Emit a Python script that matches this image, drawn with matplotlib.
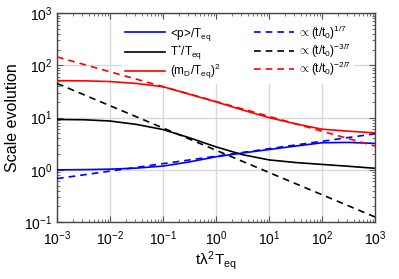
import numpy as np
import matplotlib
matplotlib.use("Agg")
import matplotlib.pyplot as plt
from matplotlib.ticker import LogLocator, NullFormatter

plt.rcParams['font.family'] = ['Liberation Sans', 'DejaVu Sans']
plt.rcParams['mathtext.fontset'] = 'custom'
plt.rcParams['mathtext.rm'] = 'Liberation Sans'
plt.rcParams['mathtext.it'] = 'Liberation Sans'
plt.rcParams['mathtext.sf'] = 'Liberation Sans'

# time points (t lambda^2 T_eq)
t = [1e-3, 10**-2.5, 1e-2, 10**-1.5, 1e-1, 10**-0.5, 1e0, 10**0.5, 1e1, 10**1.5, 1e2, 10**2.5, 1e3]
p_over_T = [1.0, 1.01, 1.03, 1.08, 1.18, 1.42, 1.78, 2.1, 2.45, 2.85, 3.3, 3.35, 3.2]
Tstar_over_T = [9.2, 9.1, 8.6, 7.4, 5.9, 4.1, 2.75, 1.95, 1.55, 1.38, 1.27, 1.17, 1.07]
mD_over_T2 = [51, 50.5, 49, 45, 39, 28, 20, 14, 10, 7.6, 6.0, 5.5, 5.1]

# power-law guide lines (endpoints)
t_fit = [1e-3, 1e3]
fit_p = [0.68, 4.9]
fit_T = [45, 0.125]
fit_m = [145, 2.85]

xticks = [1e-3, 1e-2, 1e-1, 1e0, 1e1, 1e2, 1e3]
xticklabels = [r'10$^{-3}$', r'10$^{-2}$', r'10$^{-1}$', r'10$^{0}$', r'10$^{1}$', r'10$^{2}$', r'10$^{3}$']
yticks = [1e-1, 1e0, 1e1, 1e2, 1e3]
yticklabels = [r'10$^{-1}$', r'10$^{0}$', r'10$^{1}$', r'10$^{2}$', r'10$^{3}$']

labels = [r'<p>/T$_{\mathrm{eq}}$', r'T$^{*}$/T$_{\mathrm{eq}}$', r'(m$_{\mathrm{D}}$/T$_{\mathrm{eq}}$)$^{2}$',
          r'$\propto$(t/t$_{0}$)$^{1/7}$', r'$\propto$(t/t$_{0}$)$^{-3/7}$', r'$\propto$(t/t$_{0}$)$^{-2/7}$']

fig = plt.figure(figsize=(3.99, 2.79), dpi=100)
ax = fig.add_axes([0.143, 0.204, 0.797, 0.749])

lw = 1.2
dash = (0, (4, 3))
h1, = ax.plot(t, p_over_T, color='blue', lw=lw, zorder=3)
h2, = ax.plot(t, Tstar_over_T, color='black', lw=lw, zorder=3)
h3, = ax.plot(t, mD_over_T2, color='red', lw=lw, zorder=3)
h4, = ax.plot(t_fit, fit_p, color='blue', lw=lw, linestyle=dash, zorder=3)
h5, = ax.plot(t_fit, fit_T, color='black', lw=lw, linestyle=dash, zorder=3)
h6, = ax.plot(t_fit, fit_m, color='red', lw=lw, linestyle=dash, zorder=3)

ax.set_xscale('log')
ax.set_yscale('log')
ax.set_xlim(1e-3, 1e3)
ax.set_ylim(1e-1, 1e3)
ax.set_xticks(xticks)
ax.set_xticklabels(xticklabels)
ax.set_yticks(yticks)
ax.set_yticklabels(yticklabels)
ax.xaxis.set_minor_locator(LogLocator(base=10, subs=np.arange(2, 10), numticks=20))
ax.yaxis.set_minor_locator(LogLocator(base=10, subs=np.arange(2, 10), numticks=20))
ax.xaxis.set_minor_formatter(NullFormatter())
ax.yaxis.set_minor_formatter(NullFormatter())
ax.grid(True, which='major', color='#d9d9d9', lw=1.0)
ax.set_axisbelow(True)
ax.tick_params(which='both', direction='in', top=True, right=True, labelsize=10, colors='#555555', labelcolor='black')
ax.tick_params(which='major', length=4)
ax.tick_params(which='minor', length=2)
ax.tick_params(axis='x', pad=5)
for s in ax.spines.values():
    s.set_color('#444444')
    s.set_linewidth(1.0)

ax.set_xlabel(r't$\lambda^{2}$T$_{\mathrm{eq}}$', fontsize=11, labelpad=1)
ax.set_ylabel('Scale evolution', fontsize=11.5, labelpad=3)

leg = ax.legend([h1, h2, h3, h4, h5, h6], labels, ncol=2, loc='upper left',
                bbox_to_anchor=(0.205, 0.965), fontsize=8.5, frameon=True,
                handlelength=3.4, handletextpad=0.4, columnspacing=2.8,
                labelspacing=0.0, borderpad=0.25, borderaxespad=0)
leg.get_frame().set_facecolor('white')
leg.get_frame().set_edgecolor('none')
leg.get_frame().set_alpha(1)
leg.get_frame().set_boxstyle('square', pad=0)
leg.set_zorder(2)

fig.savefig('out.png', dpi=100)
